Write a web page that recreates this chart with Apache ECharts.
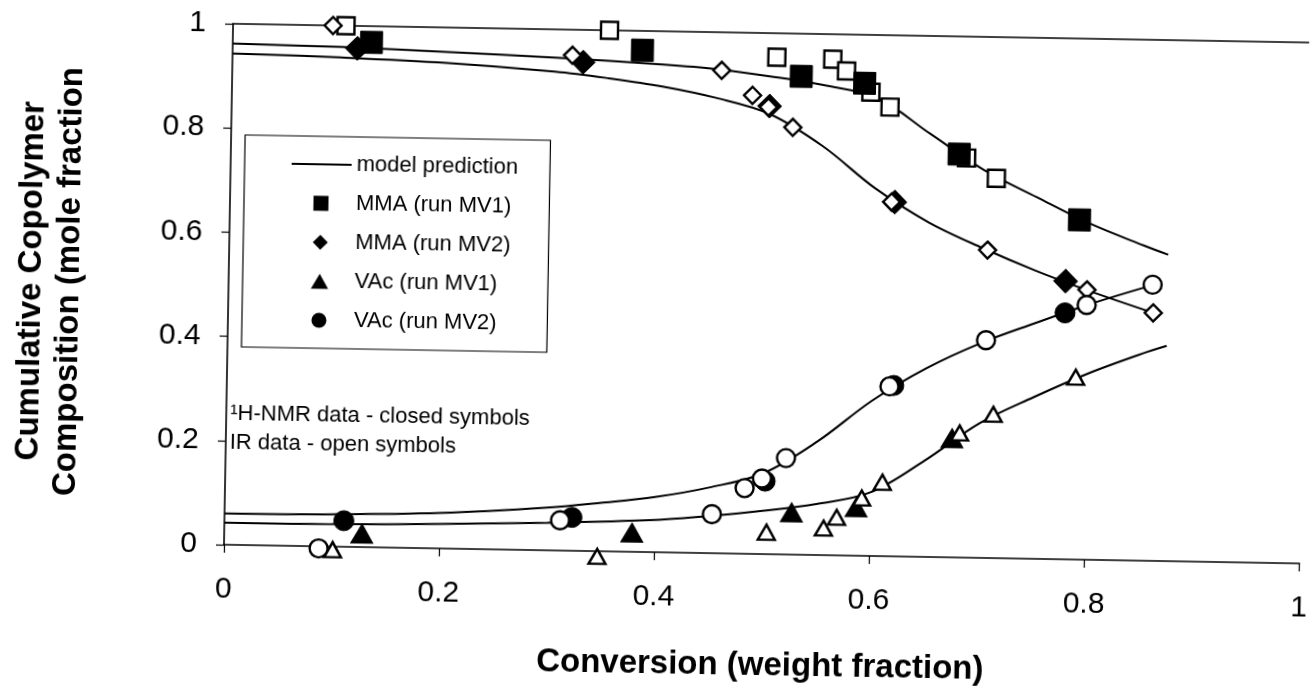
<!DOCTYPE html>
<html>
<head>
<meta charset="utf-8">
<script src="https://cdn.jsdelivr.net/npm/echarts@6/dist/echarts.min.js"></script>
<style>
  html, body { margin: 0; padding: 0; background: #fff; overflow: hidden; }
  #chart { width: 1311px; height: 687px; transform: rotate(1deg); transform-origin: 185px 544px; }
</style>
</head>
<body>
<div id="chart"></div>
<script>
// Model predictions: cumulative copolymer composition vs conversion
const modelMMA1 = [[0,0.962],[0.1,0.959],[0.2,0.953],[0.3,0.946],[0.4,0.936],[0.45,0.929],[0.5,0.917],[0.55,0.902],[0.6,0.879],[0.65,0.812],[0.7,0.745],[0.75,0.694],[0.8,0.645],[0.85,0.605],[0.873,0.588]];
const modelVAc1 = [[0,0.042],[0.1,0.043],[0.2,0.047],[0.3,0.053],[0.4,0.062],[0.45,0.071],[0.5,0.083],[0.55,0.098],[0.6,0.122],[0.65,0.185],[0.7,0.258],[0.75,0.310],[0.8,0.357],[0.85,0.397],[0.873,0.413]];
const modelMMA2 = [[0,0.943],[0.1,0.939],[0.2,0.932],[0.3,0.919],[0.35,0.908],[0.4,0.894],[0.45,0.874],[0.5,0.845],[0.55,0.785],[0.6,0.705],[0.65,0.642],[0.7,0.595],[0.75,0.553],[0.8,0.516],[0.86,0.476]];
const modelVAc2 = [[0,0.060],[0.1,0.062],[0.2,0.068],[0.3,0.082],[0.35,0.093],[0.4,0.106],[0.45,0.126],[0.5,0.155],[0.55,0.218],[0.6,0.298],[0.65,0.362],[0.7,0.412],[0.75,0.452],[0.8,0.490],[0.86,0.530]];

// Measured compositions: 1H-NMR (closed symbols) and IR (open symbols)
const nmrMMA1 = [[0.129,0.969],[0.381,0.963],[0.529,0.918],[0.588,0.907],[0.677,0.774],[0.79,0.652]];
const irMMA1  = [[0.105,1.0],[0.35,1.0],[0.506,0.954],[0.558,0.952],[0.571,0.930],[0.594,0.890],[0.612,0.862],[0.684,0.767],[0.712,0.729]];
const nmrMMA2 = [[0.116,0.957],[0.326,0.938],[0.500,0.860],[0.618,0.680],[0.778,0.534]];
const irMMA2  = [[0.093,1.0],[0.316,0.951],[0.455,0.927],[0.484,0.880],[0.499,0.858],[0.522,0.820],[0.615,0.680],[0.705,0.591],[0.798,0.518],[0.860,0.476]];
const nmrVAc1 = [[0.128,0.026],[0.379,0.037],[0.527,0.081],[0.587,0.093],[0.675,0.229]];
const irVAc1  = [[0.101,-0.006],[0.347,-0.01],[0.504,0.042],[0.557,0.052],[0.569,0.073],[0.592,0.111],[0.611,0.142],[0.682,0.239],[0.713,0.276],[0.789,0.350]];
const nmrVAc2 = [[0.111,0.050],[0.323,0.064],[0.502,0.140],[0.620,0.328],[0.778,0.473]];
const irVAc2  = [[0.088,-0.004],[0.312,0.058],[0.453,0.075],[0.483,0.126],[0.499,0.145],[0.521,0.185],[0.616,0.326],[0.705,0.418],[0.798,0.489],[0.859,0.530]];

const legendNames = ['model prediction','MMA (run MV1)','MMA (run MV2)','VAc (run MV1)','VAc (run MV2)'];
const noteLines = ['\u00B9H-NMR data - closed symbols', 'IR data - open symbols'];
const xTitle = 'Conversion (weight fraction)';
const yTitle = 'Cumulative Copolymer\nComposition (mole fraction';

const FONT = 'Liberation Sans, Arial, sans-serif';
const INK = '#000';

// legend glyphs drawn at their own aspect ratio inside the legend box
const ICON_LINE = 'path://M0,0H60V2H0Z';
const ICON_SQUARE = 'path://M0,0H10V10H0Z';
const ICON_DIAMOND = 'path://M6,0L12,6L6,12L0,6Z';
const ICON_TRIANGLE = 'path://M6,0L12,10.4H0Z';

function curve(data) {
  return {
    name: legendNames[0], type: 'line', data: data, smooth: 0.35,
    symbol: 'none', itemStyle: { color: INK }, lineStyle: { color: INK, width: 2 },
    z: 2, silent: true, clip: false
  };
}
function marks(name, data, symbol, size, filled, z) {
  return {
    name: name, type: 'scatter', data: data, symbol: symbol, symbolSize: size, clip: false, z: z,
    itemStyle: filled ? { color: INK, borderColor: INK, borderWidth: 1, opacity: 1 }
                      : { color: '#fff', borderColor: INK, borderWidth: 2.4, opacity: 1 }
  };
}

const chart = echarts.init(document.getElementById('chart'), null, { renderer: 'canvas' });
chart.setOption({
  backgroundColor: '#fff',
  animation: false,
  grid: { left: 185, top: 23, width: 1120, height: 521 },
  xAxis: [{
    type: 'value', min: 0, max: 1, interval: 0.2,
    axisLine: { show: true, lineStyle: { color: INK, width: 1.6 } },
    axisTick: { show: true, inside: false, length: 8, lineStyle: { color: INK, width: 1.2 } },
    axisLabel: { color: INK, fontSize: 30, fontFamily: FONT, margin: 30 },
    splitLine: { show: false },
    name: xTitle, nameLocation: 'middle', nameGap: 95,
    nameTextStyle: { color: INK, fontSize: 33, fontWeight: 'bold', fontFamily: FONT }
  }, {
    type: 'value', min: 0, max: 1, position: 'top',
    axisLine: { show: true, lineStyle: { color: INK, width: 1.6 } },
    axisTick: { show: false }, axisLabel: { show: false }, splitLine: { show: false }
  }],
  yAxis: [{
    type: 'value', min: 0, max: 1, interval: 0.2,
    axisLine: { show: true, lineStyle: { color: INK, width: 1.6 } },
    axisTick: { show: true, inside: false, length: 8, lineStyle: { color: INK, width: 1.2 } },
    axisLabel: { color: INK, fontSize: 30, fontFamily: FONT, margin: 27 },
    splitLine: { show: false },
    name: yTitle, nameLocation: 'middle', nameRotate: 90, nameGap: 140,
    nameTextStyle: { color: INK, fontSize: 33, fontWeight: 'bold', fontFamily: FONT, lineHeight: 38 }
  }],
  legend: {
    data: [
      { name: legendNames[0], icon: ICON_LINE },
      { name: legendNames[1], icon: ICON_SQUARE },
      { name: legendNames[2], icon: ICON_DIAMOND },
      { name: legendNames[3], icon: ICON_TRIANGLE },
      { name: legendNames[4], icon: 'circle' }
    ],
    orient: 'vertical', left: 238, top: 134, symbolKeepAspect: true,
    padding: [15, 32, 15, 47], itemGap: 13, itemWidth: 60, itemHeight: 15,
    borderColor: INK, borderWidth: 1.2, backgroundColor: '#fff',
    itemStyle: { color: INK, borderWidth: 0 },
    textStyle: { color: INK, fontSize: 22, fontFamily: FONT, lineHeight: 26 },
    selectedMode: false
  },
  graphic: [
    { type: 'text', left: 228, top: 402, style: { text: noteLines[0], fill: INK, font: '22px ' + FONT } },
    { type: 'text', left: 228, top: 431, style: { text: noteLines[1], fill: INK, font: '22px ' + FONT } }
  ],
  series: [
    curve(modelMMA1), curve(modelMMA2), curve(modelVAc1), curve(modelVAc2),
    marks('MMA (run MV1) IR', irMMA1, 'rect', 17, false, 3),
    marks(legendNames[1], nmrMMA1, 'rect', 22, true, 4),
    marks(legendNames[2], nmrMMA2, 'diamond', [24, 24], true, 3),
    marks('MMA (run MV2) IR', irMMA2, 'diamond', [17, 17], false, 4),
    marks(legendNames[3], nmrVAc1, 'triangle', [22, 19], true, 3),
    marks('VAc (run MV1) IR', irVAc1, 'triangle', [17, 15], false, 4),
    marks(legendNames[4], nmrVAc2, 'circle', 20, true, 3),
    marks('VAc (run MV2) IR', irVAc2, 'circle', 18, false, 4)
  ]
});
</script>
</body>
</html>
